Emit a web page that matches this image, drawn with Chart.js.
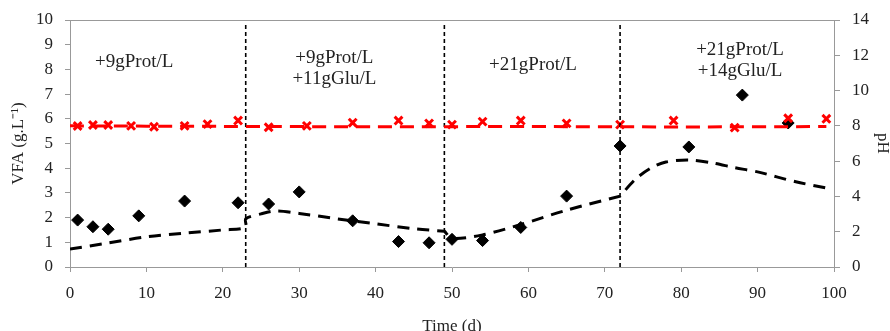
<!DOCTYPE html>
<html>
<head>
<meta charset="utf-8">
<script src="https://cdn.jsdelivr.net/npm/chart.js@4.4.0/dist/chart.umd.min.js"></script>
<style>
  html, body { margin: 0; padding: 0; background: #fff; }
  #wrap { width: 890px; height: 331px; }
</style>
</head>
<body>
<div id="wrap"><canvas id="c"></canvas></div>
<script>
// measured VFA (g/L)
const vfaDays = [1, 3, 5, 9, 15, 22, 26, 30, 37, 43, 47, 50, 54, 59, 65, 72, 81, 88, 94];
const vfaValues = [1.9, 1.63, 1.53, 2.07, 2.67, 2.6, 2.55, 3.04, 1.87, 1.03, 0.98, 1.12, 1.07, 1.6, 2.87, 4.9, 4.86, 6.96, 5.83];

// measured pH
const phDays = [1, 3, 5, 8, 11, 15, 18, 22, 26, 31, 37, 43, 47, 50, 54, 59, 65, 72, 79, 87, 94, 99];
const phValues = [7.99, 8.05, 8.05, 8.0, 7.95, 8.0, 8.1, 8.3, 7.92, 8.0, 8.18, 8.3, 8.14, 8.07, 8.24, 8.3, 8.14, 8.07, 8.3, 7.9, 8.43, 8.4];

// model curves
const modelDays = [0, 5, 10, 15, 20, 23, 23, 25, 27, 30, 35, 40, 45, 49, 49, 50, 54, 59, 65, 72, 72, 74, 76, 78, 81, 84, 87, 90, 95, 99];
const modelVfa = [0.73, 0.97, 1.22, 1.37, 1.5, 1.6, 1.95, 2.15, 2.27, 2.17, 1.95, 1.75, 1.55, 1.45, 1.45, 1.16, 1.3, 1.72, 2.3, 2.87, 2.87, 3.55, 4.0, 4.25, 4.33, 4.22, 4.02, 3.85, 3.45, 3.2];
const modelPhDays = [0, 20, 40, 60, 80, 99];
const modelPh = [8.0, 7.97, 7.95, 7.96, 7.94, 7.96];

// feeding changes
const phaseDays = [23, 49, 72];
const phaseLabels = [
  { x: 8.4, lines: ['+9gProt/L'], y: 8.3 },
  { x: 34.6, lines: ['+9gProt/L', '+11gGlu/L'], y: 8.46 },
  { x: 60.6, lines: ['+21gProt/L'], y: 8.18 },
  { x: 87.7, lines: ['+21gProt/L', '+14gGlu/L'], y: 8.79 }
];

const serif = "'Liberation Serif', 'Times New Roman', serif";

const pts = (xs, ys) => xs.map((x, i) => ({ x: x, y: ys[i] }));

const phaseSets = phaseDays.map(d => ({
  type: 'line',
  data: [{ x: d, y: 0 }, { x: d, y: 9.8 }],
  borderColor: '#000',
  borderWidth: 1.6,
  borderDash: [4, 3],
  pointRadius: 0,
  yAxisID: 'y'
}));

const labelPlugin = {
  id: 'phaseText',
  afterDatasetsDraw(chart) {
    const ctx = chart.ctx;
    const xs = chart.scales.x, ys = chart.scales.y;
    ctx.save();
    ctx.font = '19px ' + serif;
    ctx.fillStyle = '#222';
    ctx.textAlign = 'center';
    ctx.textBaseline = 'middle';
    phaseLabels.forEach(p => {
      p.lines.forEach((t, i) => {
        ctx.fillText(t, xs.getPixelForValue(p.x), ys.getPixelForValue(p.y) + i * 21);
      });
    });
    ctx.restore();
  }
};

new Chart(document.getElementById('c'), {
  type: 'scatter',
  data: {
    datasets: [
      {
        type: 'line',
        data: pts(modelPhDays, modelPh),
        borderColor: '#ff0000',
        borderWidth: 3,
        borderDash: [14, 8],
        pointRadius: 0,
        tension: 0.3,
        yAxisID: 'y2'
      },
      {
        type: 'line',
        data: pts(modelDays, modelVfa),
        borderColor: '#000',
        borderWidth: 3,
        borderDash: [12, 8],
        pointRadius: 0,
        tension: 0.3,
        yAxisID: 'y'
      },
      ...phaseSets,
      {
        data: pts(phDays, phValues),
        pointStyle: 'crossRot',
        pointRadius: 5.5,
        borderWidth: 3,
        borderColor: '#ff0000',
        yAxisID: 'y2'
      },
      {
        data: pts(vfaDays, vfaValues),
        pointStyle: 'rectRot',
        pointRadius: 6,
        backgroundColor: '#000',
        borderColor: '#000',
        yAxisID: 'y'
      }
    ]
  },
  options: {
    responsive: true,
    maintainAspectRatio: false,
    animation: false,
    layout: { padding: { top: 20, right: 0, left: 0, bottom: 0 } },
    plugins: { legend: { display: false }, tooltip: { enabled: false } },
    scales: {
      x: {
        type: 'linear',
        min: 0, max: 100,
        ticks: { stepSize: 10, color: '#222', font: { family: serif, size: 17 }, padding: 11 },
        grid: { drawOnChartArea: false, color: '#999', tickLength: 5 },
        border: { color: '#999' },
        title: { display: true, text: 'Time (d)', color: '#222', font: { family: serif, size: 17 }, padding: { top: 0, bottom: -6 } },
        afterFit(s) { s.height = 64; s.paddingLeft = 0; s.paddingRight = 0; }
      },
      y: {
        position: 'left',
        min: 0, max: 10,
        ticks: { stepSize: 1, color: '#222', font: { family: serif, size: 17 }, padding: 12 },
        grid: { drawOnChartArea: false, color: '#999', tickLength: 5 },
        border: { color: '#999' },
        title: { display: true, text: 'VFA (g.L⁻¹)', color: '#222', font: { family: serif, size: 17 }, padding: { top: 8, bottom: 0 } },
        afterFit(s) { s.width = 70; s.paddingTop = 0; s.paddingBottom = 0; }
      },
      y2: {
        position: 'right',
        min: 0, max: 14,
        ticks: { stepSize: 2, color: '#222', font: { family: serif, size: 17 }, padding: 12 },
        grid: { drawOnChartArea: false, color: '#999', tickLength: 6 },
        border: { color: '#999' },
        title: { display: true, text: 'pH', color: '#222', font: { family: serif, size: 17 }, padding: { top: -3, bottom: 0 } },
        afterFit(s) { s.width = 56; s.paddingTop = 0; s.paddingBottom = 0; }
      }
    }
  },
  plugins: [labelPlugin, {
    id: 'topBorder',
    afterDraw(chart) {
      const a = chart.chartArea, ctx = chart.ctx;
      ctx.save();
      ctx.strokeStyle = '#999';
      ctx.lineWidth = 1;
      ctx.beginPath();
      ctx.moveTo(a.left, a.top + 0.5);
      ctx.lineTo(a.right, a.top + 0.5);
      ctx.stroke();
      ctx.restore();
    }
  }]
});
</script>
</body>
</html>
